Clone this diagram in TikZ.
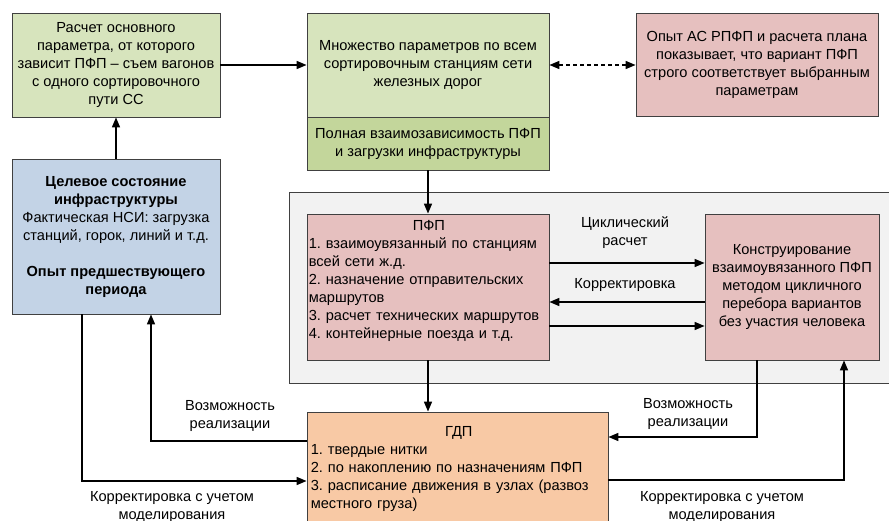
\documentclass[tikz,border=0pt]{standalone}
\usepackage{fontspec}
\setmainfont{Liberation Sans}
\usetikzlibrary{arrows.meta,calc}
\definecolor{gA}{HTML}{D7E4BD}
\definecolor{gB}{HTML}{C3D69B}
\definecolor{pk}{HTML}{E6C0BF}
\definecolor{bl}{HTML}{C3D3E6}
\definecolor{og}{HTML}{F8C9A5}
\definecolor{gr}{HTML}{F2F2F2}
\definecolor{bd}{HTML}{404040}
\begin{document}
\begin{tikzpicture}[x=1pt,y=-1pt,
  txt/.style={font=\fontsize{14.6}{18}\selectfont\frenchspacing},
  box/.style={draw=bd,line width=0.8pt,inner sep=1pt,align=center,txt},
  arr/.style={line width=1.5pt,-{Triangle[length=10pt,width=8pt]}},
  darr/.style={line width=1.5pt,dash pattern=on 4pt off 3pt,{Triangle[length=10pt,width=8pt]}-{Triangle[length=10pt,width=8pt]}},
  lbl/.style={align=center,txt},
  inner/.style={anchor=north west,inner sep=0pt,align=left,txt}]
\useasboundingbox (0,0) rectangle (889,521);
% container
\path[fill=gr,draw=bd,line width=1pt] (289,193) rectangle (900,383);
% boxes
\node[box,fill=gA,minimum width=208pt,minimum height=104pt] (a) at (116,65)
 {Расчет основного\\параметра, от которого\\зависит ПФП – съем вагонов\\с одного сортировочного\\пути СС};
\node[box,fill=gA,minimum width=242pt,minimum height=104pt] (b) at (428,65)
 {Множество параметров по всем\\сортировочным станциям сети\\железных дорог};
\node[box,fill=gB,minimum width=242pt,minimum height=53pt] (b2) at (428,143.5)
 {Полная взаимозависимость ПФП\\и загрузки инфраструктуры};
\node[box,fill=pk,minimum width=242pt,minimum height=103pt] (c) at (757,64.5)
 {Опыт АС РПФП и расчета плана\\показывает, что вариант ПФП\\строго соответствует выбранным\\параметрам};
\node[box,fill=bl,minimum width=208pt,minimum height=155pt] (d) at (116,236.5)
 {\textbf{Целевое состояние}\\\textbf{инфраструктуры}\\Фактическая НСИ: загрузка\\станций, горок, линий и т.д.\\[18pt]\textbf{Опыт предшествующего}\\\textbf{периода}};
\node[box,fill=pk,minimum width=242pt,minimum height=146pt] (p) at (428,287) {};
\node[inner,text width=240pt] (pt) at ($(p.north west)+(2,6.5)$)
 {\centerline{ПФП}
 1. взаимоувязанный по станциям\\всей сети ж.д.\\2. назначение отправительских\\маршрутов\\3. расчет технических маршрутов\\4. контейнерные поезда и т.д.};
\node[box,fill=pk,minimum width=174pt,minimum height=146pt] (r) at (792,287)
 {Конструирование\\взаимоувязанного ПФП\\методом цикличного\\перебора вариантов\\без участия человека};
\node[box,fill=og,minimum width=301pt,minimum height=128pt] (g) at (457.5,476) {};
\node[inner,text width=296pt] (gt) at ($(g.north west)+(4,14.5)$)
 {\centerline{ГДП}
 1. твердые нитки\\2. по накоплению по назначениям ПФП\\3. расписание движения в узлах (развоз\\местного груза)};
% connectors
\draw[arr] (a.east |- 0,65) -- (b.west |- 0,65);
\draw[darr] (b.east |- 0,65) -- (c.west |- 0,65);
\draw[arr] (d.north) -- (a.south);
\draw[arr] (b2.south) -- (p.north);
\draw[arr] (p.south) -- (p.south |- g.north);
\draw[arr] (p.east |- 0,263) -- (r.west |- 0,263);
\draw[arr] (r.west |- 0,302) -- (p.east |- 0,302);
\draw[arr] (p.east |- 0,326) -- (r.west |- 0,326);
\draw[arr] (d.south -| 82,0) -- (82,481) -- (g.west |- 0,481);
\draw[arr] (g.west |- 0,441) -- (151,441) -- (d.south -| 151,0);
\draw[arr] (r.south -| 757,0) -- (757,437) -- (g.east |- 0,437);
\draw[arr] (g.east |- 0,480) -- (844,480) -- (r.south -| 844,0);
% labels
\node[lbl] (l1) at (625,233) {Циклический\\расчет};
\node[lbl] (l2) at (625,285) {Корректировка};
\node[lbl] (l3) at (230,416) {Возможность\\реализации};
\node[lbl] (l4) at (688,414) {Возможность\\реализации};
\node[lbl] (l5) at (172,507) {Корректировка с учетом\\моделирования};
\node[lbl] (l6) at (722,507) {Корректировка с учетом\\моделирования};
\end{tikzpicture}
\end{document}
